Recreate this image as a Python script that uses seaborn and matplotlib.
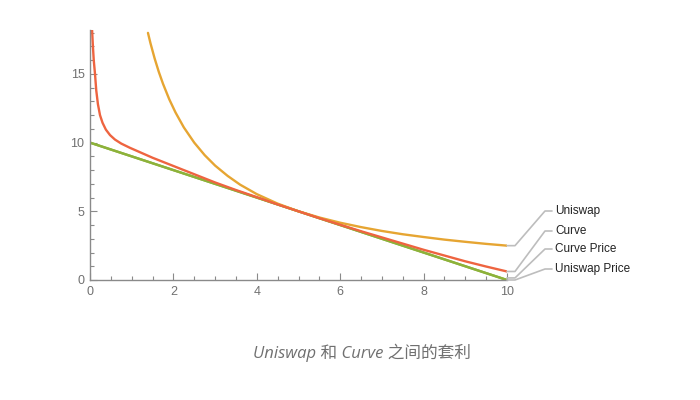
import matplotlib
matplotlib.use("Agg")
import matplotlib.pyplot as plt
import seaborn as sns
import pandas as pd
from matplotlib.ticker import MultipleLocator
from matplotlib.transforms import IdentityTransform

# ---- data ----
uniswap_x = [1.39, 1.45, 1.55, 1.65, 1.75, 1.9, 2.05, 2.25, 2.5, 2.75, 3.0, 3.3, 3.6,
             4.0, 4.5, 5.0, 5.5, 6.0, 6.5, 7.0, 7.5, 8.0, 8.5, 9.0, 9.5, 10.0]
uniswap_y = [17.99, 17.24, 16.13, 15.15, 14.29, 13.16, 12.20, 11.11, 10.0, 9.09, 8.33,
             7.58, 6.94, 6.25, 5.56, 5.0, 4.55, 4.17, 3.85, 3.57, 3.33, 3.13, 2.94,
             2.78, 2.63, 2.5]

curve_x = [0.05, 0.07, 0.09, 0.12, 0.15, 0.19, 0.24, 0.3, 0.38, 0.48, 0.6, 0.75, 0.96,
           1.2, 1.5, 2.0, 2.5, 3.0, 3.5, 4.0, 4.5, 5.0, 5.5, 6.0, 6.5, 7.0, 7.5, 8.0,
           8.5, 9.0, 9.5, 10.0]
curve_y = [18.2, 17.0, 16.0, 15.0, 13.8, 12.8, 12.0, 11.45, 10.95, 10.55, 10.22, 9.93,
           9.62, 9.3, 8.9, 8.3, 7.7, 7.1, 6.55, 6.03, 5.5, 5.0, 4.5, 4.02, 3.55, 3.1,
           2.65, 2.2, 1.78, 1.36, 0.98, 0.62]

curve_price_x = [0.0, 10.0]
curve_price_y = [10.0, 0.0]
uniswap_price_x = [0.0, 10.0]
uniswap_price_y = [10.0, 0.0]

series_names = ["Uniswap", "Curve", "Curve Price", "Uniswap Price"]
caption = "Uniswap 和 Curve 之间的套利"

colors = {"Uniswap": "#E6A532", "Curve": "#EE6440",
          "Curve Price": "#8DB23A", "Uniswap Price": "#8DB23A"}

# ---- build tidy frame ----
frames = []
for name, xs, ys in [("Curve Price", curve_price_x, curve_price_y),
                     ("Uniswap Price", uniswap_price_x, uniswap_price_y),
                     ("Uniswap", uniswap_x, uniswap_y),
                     ("Curve", curve_x, curve_y)]:
    frames.append(pd.DataFrame({"x": xs, "y": ys, "series": name}))
df = pd.concat(frames, ignore_index=True)

sns.set_style("white")
plt.rcParams["font.family"] = ["Liberation Sans", "DejaVu Sans"]

fig = plt.figure(figsize=(7, 4), dpi=100)
ax = fig.add_axes([90 / 700, 120 / 400, 417 / 700, 250 / 400])

for name in ["Curve Price", "Uniswap Price", "Uniswap", "Curve"]:
    sub = df[df["series"] == name]
    sns.lineplot(data=sub, x="x", y="y", ax=ax, color=colors[name], linewidth=1.7,
                 sort=False, estimator=None, legend=False)

ax.set_xlim(0, 10)
ax.set_ylim(0, 18.2)
ax.set_xlabel("")
ax.set_ylabel("")
for s in ["top", "right"]:
    ax.spines[s].set_visible(False)
axis_gray = "#8a8a8a"
for s in ["left", "bottom"]:
    ax.spines[s].set_color(axis_gray)
    ax.spines[s].set_linewidth(1.0)

ax.xaxis.set_major_locator(MultipleLocator(2))
ax.xaxis.set_minor_locator(MultipleLocator(0.5))
ax.yaxis.set_major_locator(MultipleLocator(5))
ax.yaxis.set_minor_locator(MultipleLocator(1))
ax.tick_params(which="both", direction="in", color=axis_gray, width=0.8,
               labelcolor="#707070", labelsize=9)
ax.tick_params(which="major", length=5, pad=4)
ax.tick_params(which="minor", length=3)
ax.xaxis.set_tick_params(which="both", bottom=True, top=False)
ax.yaxis.set_tick_params(which="both", left=True, right=False)

# ---- callout labels ----
fig.canvas.draw()
ends = {"Uniswap": uniswap_y[-1], "Curve": curve_y[-1],
        "Curve Price": curve_price_y[-1] + 0.15, "Uniswap Price": uniswap_price_y[-1]}
label_py = {"Uniswap": 211, "Curve": 231, "Curve Price": 249, "Uniswap Price": 269}
for name in series_names:
    x0, y0 = ax.transData.transform((curve_x[-1], ends[name]))
    ty = 400 - label_py[name]
    xs = [x0, x0 + 8, x0 + 38, x0 + 45]
    ys = [y0, y0, ty, ty]
    fig.add_artist(plt.Line2D(xs, ys, transform=IdentityTransform(),
                              color="#bdbdbd", linewidth=1.2))
    fig.text(x0 + 48, ty, name, transform=IdentityTransform(), va="center",
             ha="left", fontsize=8.5, color="#222222")

fig.text(362 / 700, 1 - 353 / 400, caption, ha="center", va="center",
         fontsize=12, color="#707070", style="italic",
         family=["Open Sans", "Noto Sans CJK SC", "DejaVu Sans"])

fig.savefig("out.png", dpi=100)
